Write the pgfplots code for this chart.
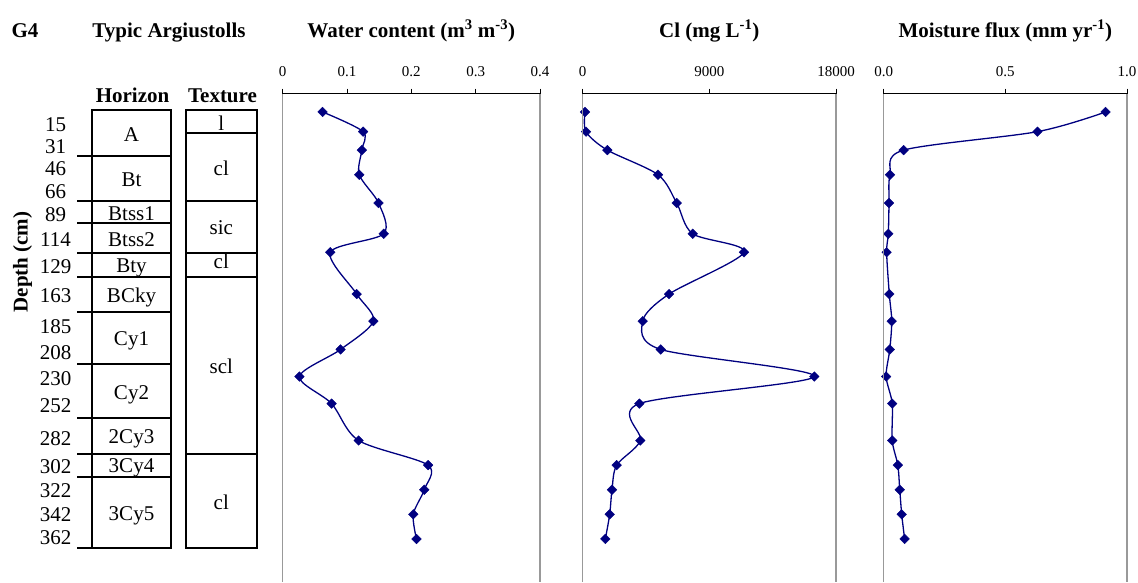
\documentclass[border=0pt]{standalone}
\usepackage{fontspec}
\setmainfont{Liberation Serif}
\usepackage{pgfplots}
\pgfplotsset{compat=1.18}
\usepackage{pgfplotstable}
\definecolor{navyline}{HTML}{000080}
\definecolor{axgray}{HTML}{999999}

\pgfplotstableread{
d wc cl flux
15 0.062 166 0.912
31 0.125 235 0.632
46 0.123 1750 0.082
66 0.119 5350 0.026
89 0.149 6680 0.022
114 0.157 7816 0.019
129 0.074 11463 0.012
163 0.115 6133 0.023
185 0.141 4264 0.033
208 0.090 5543 0.025
230 0.026 16460 0.010
252 0.076 4024 0.035
282 0.118 4095 0.035
302 0.226 2416 0.058
322 0.220 2083 0.066
342 0.203 1918 0.074
362 0.208 1608 0.086
}\data

\newcommand{\tfont}{\fontsize{21}{25}\selectfont}
\pgfplotsset{prof/.style={
  scale only axis, height=488.5pt, y dir=reverse, ymin=0, ymax=397,
  ytick=\empty, axis line style={draw=none},
  xtick pos=right, xticklabel pos=right,
  tick align=outside, major tick length=5pt,
  tick style={black, line width=0.8pt},
  xticklabel style={font=\fontsize{15}{18}\selectfont, yshift=8pt},
  /pgf/number format/assume math mode=true,
  clip=false,
  after end axis/.code={
     \draw[axgray, line width=1.3pt] (axis cs:\pgfkeysvalueof{/pgfplots/xmin},0) -- (axis cs:\pgfkeysvalueof{/pgfplots/xmin},397);
     \draw[axgray, line width=1.3pt] (axis cs:\pgfkeysvalueof{/pgfplots/xmax},0) -- (axis cs:\pgfkeysvalueof{/pgfplots/xmax},397);
     \draw[black, line width=1pt] (axis cs:\pgfkeysvalueof{/pgfplots/xmin},0) -- (axis cs:\pgfkeysvalueof{/pgfplots/xmax},0);
  },
},
profline/.style={navyline, line width=1.3pt, smooth, tension=0.5,
     mark=square*, mark size=3.4pt, mark options={rotate=45, solid, fill=navyline, draw=navyline, line width=0.4pt}}
}

\begin{document}
\begin{tikzpicture}
\useasboundingbox (0pt,0pt) rectangle (1138pt,-582pt);

% left: depth labels
\begin{axis}[at={(0pt,-582pt)}, anchor=south west, scale only axis,
  width=270pt, height=488.5pt, xmin=0, xmax=270, y dir=reverse, ymin=0, ymax=397,
  axis line style={draw=none}, xtick=\empty, major tick length=0pt,
  ytick={31.0,48.6,67.0,85.2,104.2,124.5,146.1,170.0,194.9,216.0,237.7,259.4,285.7,309.0,328.2,348.0,366.9},
  yticklabels={15,31,46,66,89,114,129,163,185,208,230,252,282,302,322,342,362},
  yticklabel style={anchor=base, xshift=55.5pt, inner sep=0pt, font=\tfont}]
\end{axis}

\begin{scope}[x=1pt, y=-1pt]
  \node[font=\tfont\bfseries, anchor=base] at (25,37) {G4};
  \node[font=\tfont\bfseries, anchor=base] at (169,37) {Typic Argiustolls};
  \node[font=\tfont\bfseries, anchor=base] at (132.5,102.7) {Horizon};
  \node[font=\tfont\bfseries, anchor=base] at (222.5,102.7) {Texture};
  \node[font=\tfont\bfseries, rotate=90] at (22.5,262) {Depth (cm)};
  % horizon box
  \draw[line width=2pt] (92,110) rectangle (171,548.3);
  \foreach \yy in {156,200.7,223.3,253.3,277.3,312,364,418.3,454.3,477.3,548.3}
     \draw[line width=2pt] (77,\yy) -- (171,\yy);
  % texture box
  \draw[line width=2pt] (186,110) rectangle (256.7,548.3);
  \foreach \yy in {132.7,200.7,253.3,277.3,454.3}
     \draw[line width=2pt] (186,\yy) -- (256.7,\yy);
  \begin{scope}[every node/.style={font=\tfont, anchor=base, inner sep=0pt}]
    \node at (131.5,141.7) {A};
    \node at (131.5,186.7) {Bt};
    \node at (131.5,220.7) {Btss1};
    \node at (131.5,246.7) {Btss2};
    \node at (131.5,272) {Bty};
    \node at (131.5,302.7) {BCky};
    \node at (131.5,345) {Cy1};
    \node at (131.5,399.3) {Cy2};
    \node at (131.5,443) {2Cy3};
    \node at (131.5,472.7) {3Cy4};
    \node at (131.5,520.7) {3Cy5};
    \node at (221.3,130.7) {l};
    \node at (221.3,175) {cl};
    \node at (221.3,234) {sic};
    \node at (221.3,268.7) {cl};
    \node at (221.3,373.3) {scl};
    \node at (221.3,509.3) {cl};
  \end{scope}
  \node[font=\tfont\bfseries, anchor=base] at (411.3,37) {Water content (m\textsuperscript{3} m\textsuperscript{-3})};
  \node[font=\tfont\bfseries, anchor=base] at (709.3,37) {Cl (mg L\textsuperscript{-1})};
  \node[font=\tfont\bfseries, anchor=base] at (1005.4,37) {Moisture flux (mm yr\textsuperscript{-1})};
\end{scope}

\begin{axis}[prof, at={(282.7pt,-582pt)}, anchor=south west, width=257.3pt,
  xmin=0, xmax=0.4, xtick={0,0.1,0.2,0.3,0.4}, xticklabels={0,0.1,0.2,0.3,0.4}]
  \addplot[profline] table[x=wc, y=d] {\data};
\end{axis}

\begin{axis}[prof, at={(582.7pt,-582pt)}, anchor=south west, width=253.3pt,
  xmin=0, xmax=18000, xtick={0,9000,18000}, xticklabels={0,9000,18000}, scaled x ticks=false]
  \addplot[profline] table[x=cl, y=d] {\data};
\end{axis}

\begin{axis}[prof, at={(883.7pt,-582pt)}, anchor=south west, width=243.3pt,
  xmin=0, xmax=1, xtick={0,0.5,1}, xticklabels={0.0,0.5,1.0}]
  \addplot[profline] table[x=flux, y=d] {\data};
\end{axis}
\end{tikzpicture}
\end{document}
